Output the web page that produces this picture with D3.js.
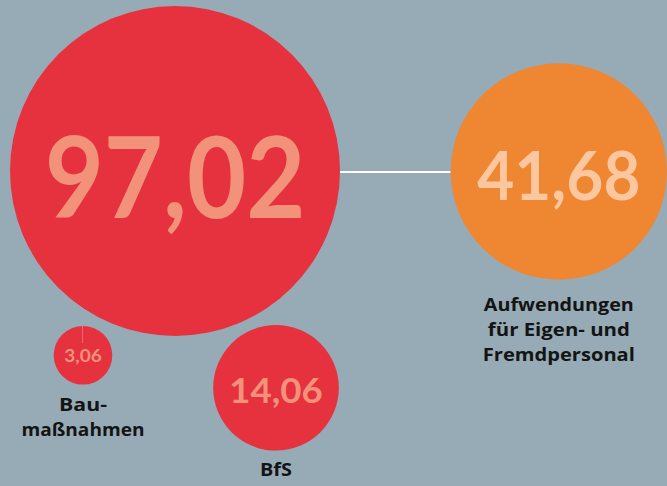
<!DOCTYPE html>
<html>
<head>
<meta charset="utf-8">
<script src="https://cdn.jsdelivr.net/npm/d3@7"></script>
<style>
  html, body { margin: 0; padding: 0; background: #96abb5; }
  svg { display: block; }
  text { font-weight: 700; }
  .num { font-family: Lato, "Open Sans", sans-serif; }
  .lbl { font-family: "Open Sans", Lato, sans-serif; }
</style>
</head>
<body>
<svg id="chart" width="667" height="486"></svg>
<script>
// ---- data ----
const categories = ["Gesamt", "Aufwendungen für Eigen- und Fremdpersonal", "Baumaßnahmen", "BfS"];
const values = [97.02, 41.68, 3.06, 14.06];
const valueLabels = ["97,02", "41,68", "3,06", "14,06"];
const labelLines = [[], ["Aufwendungen", "für Eigen- und", "Fremdpersonal"], ["Bau-", "maßnahmen"], ["BfS"]];

// ---- style ----
const W = 667, H = 486;
const bg = "#96abb5";
const fills = ["#e6323f", "#ee8632", "#e6323f", "#e6323f"];
const numFills = ["#f3927b", "#fcc79f", "#f3927b", "#f3927b"];
const labelGap = [0, 31.5, 26.5, 25.5];

const svg = d3.select("#chart");
svg.append("rect").attr("width", W).attr("height", H).attr("fill", bg);

// area-proportional radius scale
const r = d3.scaleSqrt().domain([0, d3.max(values)]).range([0, 165]);

// layout (relative placements)
const big = { cx: 10 + r(values[0]), cy: 171 };
const centers = [
  big,
  { cx: W - r(values[1]), cy: 171.5 },
  { cx: 83, cy: big.cy + r(values[0]) - 10 + r(values[2]) },
  { cx: 276, cy: big.cy + r(values[0]) - 11 + r(values[3]) }
];

// connector line between big and orange circle
svg.append("line")
  .attr("x1", centers[0].cx + r(values[0]))
  .attr("x2", centers[1].cx - r(values[1]))
  .attr("y1", 172).attr("y2", 172)
  .attr("stroke", "#ffffff").attr("stroke-width", 2.2);

// circles
svg.selectAll("circle.bubble")
  .data(values)
  .join("circle")
  .attr("class", "bubble")
  .attr("cx", (d, i) => centers[i].cx)
  .attr("cy", (d, i) => centers[i].cy)
  .attr("r", d => r(d))
  .attr("fill", (d, i) => fills[i]);

// faint line in small circle
svg.append("line")
  .attr("x1", centers[2].cx - 0.5).attr("x2", centers[2].cx - 0.5)
  .attr("y1", centers[2].cy - r(values[2]))
  .attr("y2", centers[2].cy - r(values[2]) + 17)
  .attr("stroke", "#f08a8f").attr("stroke-width", 0.8).attr("opacity", 0.8);

// number labels (font size proportional to radius)
const numSpec = values.map(v => {
  const rad = r(v);
  return { size: rad * 0.685, width: rad * 1.58, base: rad * 0.285 };
});
numSpec[1] = { size: r(values[1]) * 0.62, width: r(values[1]) * 1.51, base: r(values[1]) * 0.265 };
numSpec[2] = { size: r(values[2]) * 0.58, width: r(values[2]) * 1.28, base: r(values[2]) * 0.24 };
numSpec[3] = { size: r(values[3]) * 0.56, width: r(values[3]) * 1.49, base: r(values[3]) * 0.235 };

svg.selectAll("text.num")
  .data(valueLabels)
  .join("text")
  .attr("class", "num")
  .attr("x", (d, i) => centers[i].cx)
  .attr("y", (d, i) => centers[i].cy + numSpec[i].base)
  .attr("text-anchor", "middle")
  .attr("font-size", (d, i) => numSpec[i].size)
  .attr("textLength", (d, i) => numSpec[i].width)
  .attr("lengthAdjust", "spacingAndGlyphs")
  .attr("fill", (d, i) => numFills[i])
  .text(d => d);

// category labels
const labelWidths = { "Aufwendungen": 150, "für Eigen- und": 142, "Fremdpersonal": 152, "Bau-": 48, "maßnahmen": 123, "BfS": 32 };
labelLines.forEach((lines, i) => {
  if (!lines.length) return;
  const top = centers[i].cy + r(values[i]) + labelGap[i];
  lines.forEach((ln, j) => {
    svg.append("text")
      .attr("class", "lbl")
      .attr("x", centers[i].cx)
      .attr("y", top + j * 25)
      .attr("text-anchor", "middle")
      .attr("font-size", 18.5)
      .attr("fill", "#141414")
      .attr("textLength", labelWidths[ln])
      .attr("lengthAdjust", "spacingAndGlyphs")
      .text(ln);
  });
});
</script>
</body>
</html>
